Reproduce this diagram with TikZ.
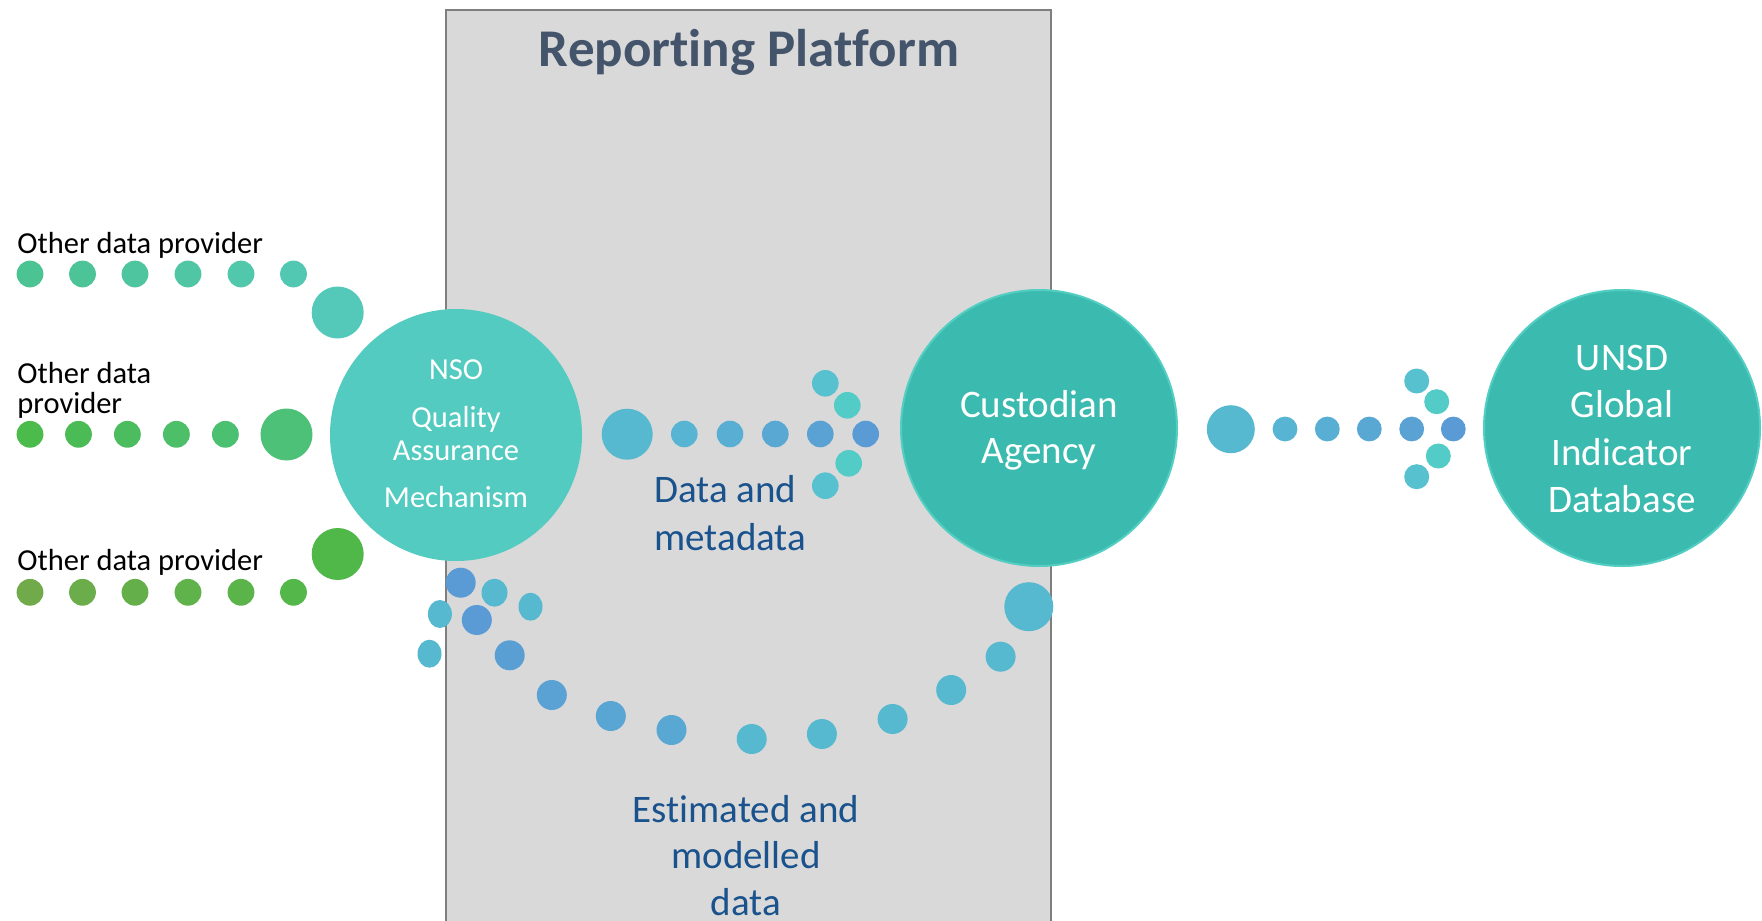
\documentclass[tikz,border=0pt]{standalone}
\usepackage{fontspec}
\setmainfont{Carlito}[Ligatures=NoCommon]
\usetikzlibrary{positioning}

\definecolor{platgray}{RGB}{217,217,217}
\definecolor{platedge}{RGB}{127,127,127}
\definecolor{titleblue}{RGB}{68,84,106}
\definecolor{labelblue}{RGB}{25,82,140}
\definecolor{nsoteal}{RGB}{84,203,192}
\definecolor{agencyteal}{RGB}{59,187,175}
\definecolor{agencyedge}{RGB}{84,206,194}
\definecolor{rowAstart}{RGB}{76,195,146}
\definecolor{rowAend}{RGB}{82,200,178}
\definecolor{rowAbig}{RGB}{84,201,186}
\definecolor{rowBstart}{RGB}{75,187,76}
\definecolor{rowBend}{RGB}{76,192,113}
\definecolor{rowBbig}{RGB}{77,193,119}
\definecolor{rowCstart}{RGB}{113,170,75}
\definecolor{rowCend}{RGB}{84,183,74}
\definecolor{rowCbig}{RGB}{80,184,72}
\definecolor{dotblue}{RGB}{91,155,213}
\definecolor{dotlight}{RGB}{86,185,208}
\definecolor{dotstart}{RGB}{87,181,211}
\definecolor{dotouter}{RGB}{87,193,208}
\definecolor{dotinner}{RGB}{83,204,199}

\tikzset{
  bigcirc/.style={circle, inner sep=0pt, text=white},
  smalltext/.style={font=\fontsize{15.25}{15.25}\selectfont, anchor=base west, inner sep=0pt},
  bigtext/.style={font=\fontsize{19.5}{19.5}\selectfont, anchor=base, inner sep=0pt},
}

\begin{document}
\begin{tikzpicture}[x=0.5pt, y=-0.5pt]
\useasboundingbox (0,0) rectangle (1762,921);
\fill[white] (0,0) rectangle (1762,921);

\fill[platgray] (446,10) rectangle (1051,921);
\draw[platedge, line width=1pt] (446,921) -- (446,10) -- (1051,10) -- (1051,921);

\node[font=\bfseries\fontsize{26.5}{26.5}\selectfont, text=titleblue, anchor=base] (title) at (749,66) {Reporting Platform};

\node[smalltext] (prov1) at (17,253) {Other data provider};
\node[smalltext] (prov2a) at (17,383) {Other data};
\node[smalltext] (prov2b) at (17,413) {provider};
\node[smalltext] (prov3) at (17,570) {Other data provider};

\foreach \x/\p in {30/0, 82.5/20, 135/40, 188/60, 241/80, 293.5/100}
  \fill[rowAend!\p!rowAstart] (\x,274) circle (13.4);
\fill[rowAbig] (337.7,312.5) circle (26);

\foreach \x/\p in {30/0, 78.5/25, 127.4/50, 176.4/75, 225.4/100}
  \fill[rowBend!\p!rowBstart] (\x,434.3) circle (13.4);
\fill[rowBbig] (286.5,434.5) circle (26);

\foreach \x/\p in {30/0, 82.5/20, 135/40, 188/60, 241/80, 293.5/100}
  \fill[rowCend!\p!rowCstart] (\x,592.3) circle (13.4);
\fill[rowCbig] (337.7,554) circle (26);

\node[bigcirc, fill=nsoteal, minimum size=126pt] (nso) at (456,435) {};
\node[smalltext, anchor=base, text=white] (nso1) at (456,379) {NSO};
\node[smalltext, anchor=base, text=white] (nso2) at (456,427) {Quality};
\node[smalltext, anchor=base, text=white] (nso3) at (456,460) {Assurance};
\node[smalltext, anchor=base, text=white] (nso4) at (456,507) {Mechanism};

\fill[dotlight] (627.2,434.2) circle (25.5);
\foreach \x/\p in {684.3/0, 730/25, 775.3/50, 820.3/75, 865.7/100}
  \fill[dotblue!\p!dotstart] (\x,434) circle (13.3);
\fill[dotouter] (825.3,383.3) circle (13.3);
\fill[dotinner] (847.3,405.3) circle (13.3);
\fill[dotinner] (848.7,463.3) circle (13.3);
\fill[dotouter] (825.3,485.7) circle (13.3);

\node[bigtext, anchor=base west, text=labelblue] (data1) at (654,502) {Data and};
\node[bigtext, anchor=base west, text=labelblue] (data2) at (654,550) {metadata};

\node[bigcirc, fill=agencyteal, draw=agencyedge, line width=1pt, minimum size=138pt] (agency) at (1039,428) {};
\node[bigtext, text=white] (agency1) at (1039,417) {Custodian};
\node[bigtext, text=white] (agency2) at (1039,463) {Agency};

\fill[dotlight] (1230.8,429.2) circle (24);
\foreach \x/\p in {1285/0, 1327.3/25, 1369.3/50, 1411.7/75, 1453.3/100}
  \fill[dotblue!\p!dotstart] (\x,429) circle (12.4);
\fill[dotouter] (1416.7,381) circle (12.5);
\fill[dotinner] (1436.7,401.7) circle (12.5);
\fill[dotinner] (1438.3,456) circle (12.5);
\fill[dotouter] (1416.7,476.7) circle (12.5);

\node[bigcirc, fill=agencyteal, draw=agencyedge, line width=1pt, minimum size=138pt] (unsd) at (1622,428) {};
\node[bigtext, text=white] (unsd1) at (1622,370) {UNSD};
\node[bigtext, text=white] (unsd2) at (1622,417) {Global};
\node[bigtext, text=white] (unsd3) at (1622,465) {Indicator};
\node[bigtext, text=white] (unsd4) at (1622,512) {Database};

\fill[dotblue] (460.7,582.7) circle (15);
\fill[dotlight] (494.5,592.7) ellipse [x radius=13, y radius=14];
\fill[dotlight] (439.9,614) ellipse [x radius=12, y radius=14];
\fill[dotblue] (476.8,620) circle (15);
\fill[dotlight] (530.5,606.7) ellipse [x radius=12, y radius=14];
\fill[dotlight] (429.5,653.7) ellipse [x radius=12, y radius=14];
\foreach \x/\y/\p in {509.7/655.3/85, 551.8/695/80, 610.8/716/65, 671.5/730/60, 751.7/739/0, 821.9/734/0, 892.6/719/0, 951.2/690/0, 1000.6/656.7/0}
  \fill[dotblue!\p!dotlight] (\x,\y) circle (15);
\fill[dotlight] (1028.8,606.7) circle (24.5);

\node[bigtext, text=labelblue] (est1) at (746,822) {Estimated and};
\node[bigtext, text=labelblue] (est2) at (746,868) {modelled};
\node[bigtext, text=labelblue] (est3) at (746,915) {data};
\end{tikzpicture}
\end{document}
